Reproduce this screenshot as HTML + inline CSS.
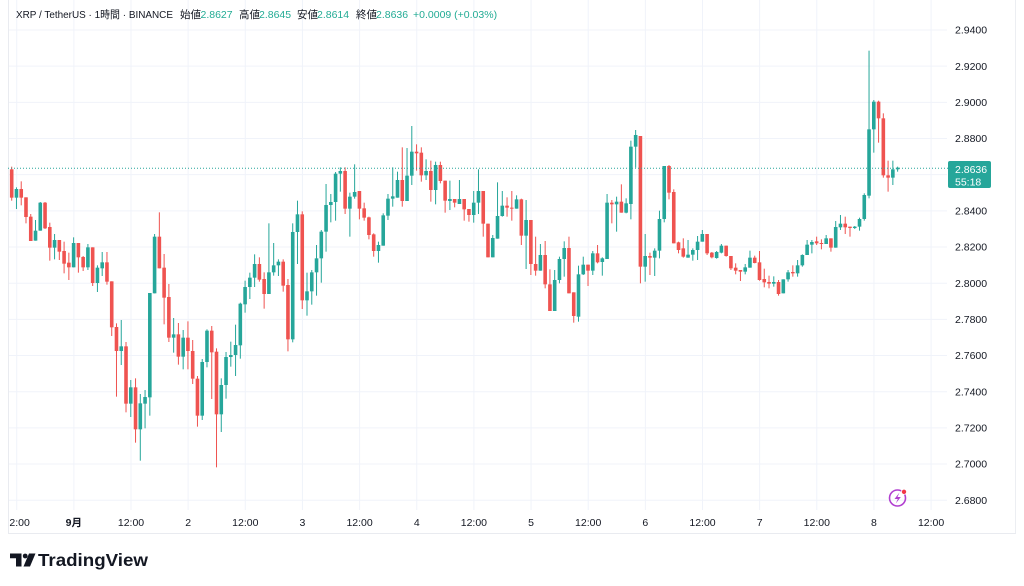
<!DOCTYPE html>
<html><head><meta charset="utf-8">
<style>
html,body{margin:0;padding:0;background:#fff;width:1024px;height:586px;overflow:hidden}
svg{display:block}
text{font-family:"Liberation Sans","Noto Sans CJK JP",sans-serif}
</style></head>
<body>
<svg id="c" width="1024" height="586" viewBox="0 0 1024 586" xmlns="http://www.w3.org/2000/svg">
<defs><clipPath id="tclip"><rect x="9" y="510" width="938" height="23"/></clipPath>
<clipPath id="pclip"><rect x="8" y="0" width="939" height="510"/></clipPath></defs>
<rect width="1024" height="586" fill="#fff"/>
<g id="grid" stroke="#f0f3fa" stroke-width="1"></g>
<!-- frame -->
<line x1="8.5" y1="0" x2="8.5" y2="533" stroke="#e9ebf0"/>
<line x1="1015.5" y1="0" x2="1015.5" y2="533" stroke="#eceef2"/>
<line x1="8" y1="533.5" x2="1016" y2="533.5" stroke="#e9ebf0"/>
<g id="candles" clip-path="url(#pclip)"></g>
<line x1="8" y1="168.2" x2="948" y2="168.2" stroke="#26a69a" stroke-width="1" stroke-dasharray="1,2"/>
<g id="paxis" font-size="10.5" fill="#131722"></g>
<rect x="948" y="161" width="43" height="27" rx="2" fill="#26a69a"/>
<text x="955" y="173" font-size="10.5" fill="#fff">2.8636</text>
<text x="955" y="185.5" font-size="10.5" fill="#fff">55:18</text>
<g id="taxis" font-size="10.5" fill="#131722" clip-path="url(#tclip)"></g>
<!-- header -->
<g font-size="10.5">
<text x="16" y="18" fill="#131722" textLength="157" lengthAdjust="spacingAndGlyphs">XRP / TetherUS · 1時間 · BINANCE</text>
<text x="180" y="18" fill="#131722">始値</text><text x="200.5" y="18" fill="#22ab94">2.8627</text>
<text x="239" y="18" fill="#131722">高値</text><text x="259" y="18" fill="#22ab94">2.8645</text>
<text x="297" y="18" fill="#131722">安値</text><text x="317" y="18" fill="#22ab94">2.8614</text>
<text x="356" y="18" fill="#131722">終値</text><text x="376" y="18" fill="#22ab94">2.8636</text>
<text x="413" y="18" fill="#22ab94">+0.0009 (+0.03%)</text>
</g>
<!-- lightning icon -->
<circle cx="897.5" cy="498" r="8" fill="none" stroke="#b13fd0" stroke-width="1.6"/>
<path d="M899.5 492.5 L894.5 499 L897.8 499 L895.8 503.5 L900.8 497 L897.5 497 Z" fill="#b13fd0"/>
<circle cx="904" cy="491.8" r="2.6" fill="#f23645" stroke="#fff" stroke-width="0.8"/>
<!-- TradingView logo -->
<g fill="#131722">
<path d="M10 553.5 H21.5 V566.5 H16 V558.2 H10 Z"/>
<circle cx="25.2" cy="556" r="2.4"/>
<path d="M29 553.5 H35.5 L30 566.5 H23.5 Z"/>
<text x="38" y="566" font-size="17.5" font-weight="bold" textLength="110" lengthAdjust="spacingAndGlyphs">TradingView</text>
</g>
</svg>
<script>
(function(){
var NS="http://www.w3.org/2000/svg";
function el(n,a,p){var e=document.createElementNS(NS,n);for(var k in a)e.setAttribute(k,a[k]);p.appendChild(e);return e;}
var grid=document.getElementById('grid'),pax=document.getElementById('paxis'),tax=document.getElementById('taxis'),cg=document.getElementById('candles');
var labels=["2.9400","2.9200","2.9000","2.8800","2.8600","2.8400","2.8200","2.8000","2.7800","2.7600","2.7400","2.7200","2.7000","2.6800"];
for(var k=0;k<14;k++){var y=30+k*36.17;el('line',{x1:8,x2:947,y1:y,y2:y},grid);
 if(k!=4){var t=el('text',{x:955,y:y+3.7},pax);t.textContent=labels[k];}}
var tl=["12:00","9月","12:00","2","12:00","3","12:00","4","12:00","5","12:00","6","12:00","7","12:00","8","12:00"];
for(var k=0;k<17;k++){var x=16.7+k*57.15;el('line',{x1:x,x2:x,y1:0,y2:510},grid);
 var t=el('text',{x:x,y:526,'text-anchor':'middle'},tax);t.textContent=tl[k];if(k==1)t.setAttribute('font-weight','bold');}
var groups=[
[160,"r 28 113 20 122,g 87 113 82 147,r 87 113 64 136,r 112 171 112 190,r 170 243 162 243,g 212 242 180 242,g 128 212 126 212,r 128 205 126 207,r 201 263 188 302,g 240 263 222 298,r 240 275 240 300,r 273 311 245 340,r 308 322 278 360,g 249 322 232 322,r 249 292 249 338,r 291 322 288 333,g 262 322 252 330,r 262 369 262 378,g 323 369 316 396,g 307 325 276 348,r 307 365 276 374,r 364 502 364 528,r 501 573 490 710,g 559 573 480 615,r 559 731 546 757,g 682 731 660 771,r 682 808 655 848,g 730 808 702 902,g 711 731 690 805,g 399 712 399 767,g 230 400 222 400,r 230 325 157 325,r 323 413 282 493,r 411 533 372 546,g 523 533 474 578,r 523 590 489 614,g 533 590 510 628"],
[160,"r 533 573 484 628,r 573 656 540 672,r 656 767 648 800,g 606 767 597 780,g 512 606 508 622,r 512 577 498 717,r 575 763 565 922,g 675 763 655 816,g 591 675 576 716,g 585 591 545 620,g 555 585 494 648,g 431 556 428 596,g 381 433 362 458,g 353 381 338 417,g 312 353 283 381,r 312 359 292 365,r 357 402 337 446,g 337 402 190 402,g 316 337 249 347,g 305 316 298 348,r 305 377 298 395,r 375 538 357 574,g 216 538 190 547,g 163 216 122 312,r 163 421 154 447,g 394 421 338 467,g 337 394 330 434,g 295 337 255 407,g 215 295 210 368,g 135 215 72 275,g 126 135 102 187,g 41 126 36 182,g 33 41 22 95,r 33 146 22 162,g 110 146 98 230,g 96 110 13 116,r 93 146 93 178"],
[120,"r 265 293 248 302,r 292 345 290 358,r 343 393 340 410,g 375 393 365 428,g 286 377 280 377,g 236 287 222 300,g 229 236 142 260,g 180 233 155 233,r 180 243 82 260,g 167 243 84 243,g 95 167 18 195,r 95 100 73 152,r 98 166 82 185,g 153 166 118 180,r 153 210 122 245,g 135 210 125 253,r 135 183 125 190,r 182 242 182 278,g 237 243 182 270,r 237 248 237 262,g 237 252 180 252,r 237 268 237 302,r 267 285 267 305,g 248 285 213 308,g 213 248 148 282,r 213 311 213 350,r 311 412 311 412,g 354 412 345 412,g 288 356 187 356,g 257 288 213 290,r 257 263 232 290,r 263 266 213 302,g 238 266 226 266,r 238 347 236 375,g 300 347 240 447,r 300 432 300 465"],
[120,"r 432 452 350 467,g 405 452 372 452,r 405 493 363 505,r 493 573 448 573,g 480 573 450 573,g 417 480 410 490,g 384 417 364 470,r 384 520 350 520,r 517 588 517 608,g 463 590 437 605,g 434 463 410 465,r 434 452 434 498,g 400 452 393 465,r 400 427 375 430,g 415 426 412 467,g 248 417 222 417,r 248 253 240 310,g 245 253 230 335,r 245 278 193 278,g 250 278 235 280,g 80 252 62 298,g 45 80 30 143,r 48 440 48 490,g 408 440 342 485,r 408 413 398 465,g 392 413 385 468,g 297 392 272 415,g 138 297 138 307,r 138 218 135 238,r 216 370 208 370,r 367 390 365 400,r 385 410 355 413,g 404 413 360 413,g 390 404 385 422,g 365 390 348 420,g 342 365 330 365,r 342 400 342 405"],
[40,"r 638 652 636 655,g 636 654 633 656,g 617 638 612 640,r 617 648 617 650,r 648 685 648 690,r 683 692 670 703,r 690 695 690 723,g 682 695 672 703,g 653 683 632 683,r 653 669 647 670,r 667 720 633 722,r 717 727 686 742,r 726 731 707 745,g 726 731 709 740,r 726 762 720 767,g 718 760 718 760,g 697 718 690 725,r 696 700 676 710,g 676 700 660 710,g 645 676 643 680,g 614 645 600 645,g 606 614 600 640,r 604 610 590 615,r 609 612 598 628,g 595 612 585 612,r 595 623 595 635,g 561 623 543 623,g 551 562 525 570,r 551 562 530 582,r 560 564 560 590,g 560 564 558 567,g 537 560 533 572,g 465 537 460 542,g 268 467 32 475,g 185 268 180 338,r 185 235 182 308,r 235 406 220 413,r 406 413 362 455,g 388 413 362 435,g 383 388 380 395"]
];
var i=0;
groups.forEach(function(g){var off=g[0];g[1].split(',').forEach(function(s){
 var p=s.trim().split(/\s+/);var col=p[0]=='g'?'#26a69a':'#ef5350';
 var bt=off+(+p[1])/3,bb=off+(+p[2])/3,wt=off+(+p[3])/3,wb=off+(+p[4])/3;
 var x=11.7+i*4.763;
 el('rect',{x:x-0.5,y:wt,width:1,height:Math.max(wb-wt,1),fill:col},cg);
 el('rect',{x:x-1.8,y:bt,width:3.6,height:Math.max(bb-bt,1),fill:col},cg);
 i++;});});
})();
</script>
</body></html>
